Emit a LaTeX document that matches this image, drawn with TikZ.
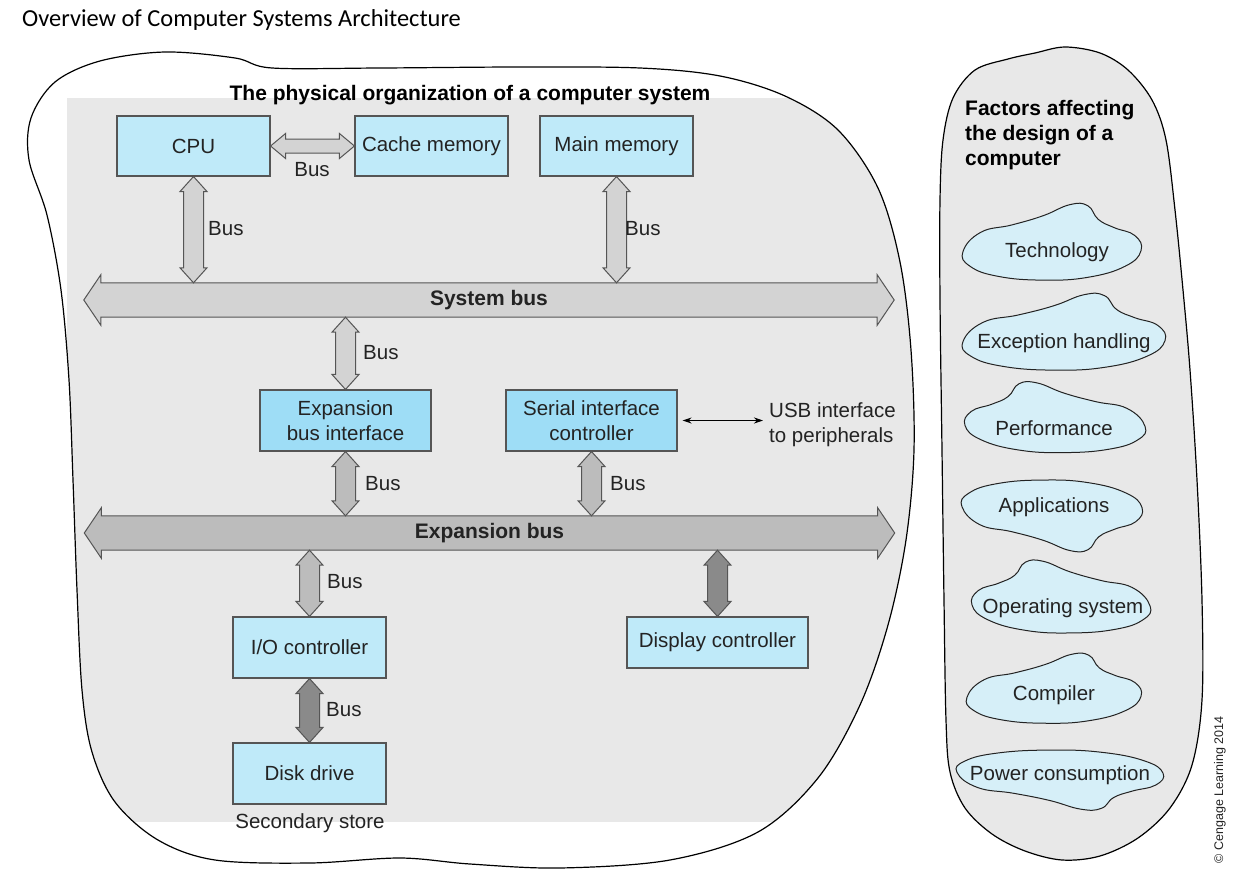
\documentclass[tikz,border=0pt]{standalone}
\usepackage{fontspec}
\setmainfont{Liberation Sans}
\newfontfamily\titlefont{Carlito}
\usetikzlibrary{calc,arrows.meta}
\pgfdeclarelayer{bg}
\pgfdeclarelayer{mid}
\pgfsetlayers{bg,mid,main}

\definecolor{boxblue}{RGB}{191,234,249}
\definecolor{boxdeep}{RGB}{158,221,246}
\definecolor{cloudblue}{RGB}{214,239,248}
\definecolor{panelgray}{RGB}{232,232,232}
\definecolor{busgray}{RGB}{211,211,211}
\definecolor{busmid}{RGB}{188,188,188}
\definecolor{busdark}{RGB}{138,138,138}
\definecolor{edgegray}{RGB}{85,85,85}
\definecolor{inkgray}{RGB}{35,35,35}

% vertical bus: fill, upper end, lower end
\newcommand{\vbus}[3]{%
  \draw[busedge,fill=#1] let \p1=(#2), \p2=(#3) in
    (\x1,\y1) -- (\x1+13.5pt,\y1-15pt) -- (\x1+10pt,\y1-15pt) -- (\x1+10pt,\y2+15pt)
    -- (\x1+13.5pt,\y2+15pt) -- (\x1,\y2) -- (\x1-13.5pt,\y2+15pt) -- (\x1-10pt,\y2+15pt)
    -- (\x1-10pt,\y1-15pt) -- (\x1-13.5pt,\y1-15pt) -- cycle;}
% horizontal bus: fill, left end, right end
\newcommand{\hbus}[3]{%
  \draw[busedge,fill=#1] let \p1=(#2), \p2=(#3) in
    (\x1,\y1) -- (\x1+15pt,\y1+12.5pt) -- (\x1+15pt,\y1+7pt) -- (\x2-15pt,\y1+7pt)
    -- (\x2-15pt,\y1+12.5pt) -- (\x2,\y1) -- (\x2-15pt,\y1-12.5pt) -- (\x2-15pt,\y1-7pt)
    -- (\x1+15pt,\y1-7pt) -- (\x1+15pt,\y1-12.5pt) -- cycle;}
% wide bus round a shaft node
\newcommand{\busbar}[2]{%
  \draw[busedge,fill=#2] (#1.north west) -- ($(#1.north west)+(0,-8)$) -- ($(#1.west)+(-17,0)$)
    -- ($(#1.south west)+(0,8)$) -- (#1.south west) -- (#1.south east) -- ($(#1.south east)+(0,8)$)
    -- ($(#1.east)+(17,0)$) -- ($(#1.north east)+(0,-8)$) -- (#1.north east) -- cycle;}
% cloud behind a factor: options, node, dx, dy, half width, half height
\newcommand{\factorcloud}[6][]{%
  \begin{scope}[shift={($(#2.base)+(#3,#4)$)},xscale=#5,yscale=#6,#1]
    \draw[cloudedge] plot[smooth cycle,tension=0.75] coordinates {(-1,0.1) (-0.8,-0.32)
      (-0.45,-0.48) (-0.1,-0.68) (0.2,-0.92) (0.4,-0.9) (0.52,-0.6) (0.7,-0.42) (0.93,-0.25)
      (1,0.08) (0.82,0.42) (0.4,0.66) (-0.1,0.72) (-0.6,0.64) (-0.92,0.42)};
  \end{scope}}

\begin{document}
\begin{tikzpicture}[x=1pt,y=-1pt,
  unit/.style={draw=edgegray,line width=1.1pt,fill=boxblue,text=inkgray,
    font=\fontsize{20.5}{25}\selectfont,align=center,inner sep=0pt},
  busedge/.style={draw=edgegray,line width=1pt,line join=miter},
  busshaft/.style={minimum width=776pt,minimum height=34pt,inner sep=0pt,
    font=\bfseries\fontsize{21}{25}\selectfont,text=inkgray},
  buslbl/.style={anchor=west,inner sep=0pt,text=inkgray,font=\fontsize{20.5}{25}\selectfont},
  heading/.style={inner sep=0pt,font=\bfseries\fontsize{21}{25}\selectfont},
  factor/.style={anchor=base,inner sep=0pt,text=inkgray,font=\fontsize{20.5}{25}\selectfont},
  cloudedge/.style={draw=inkgray,line width=1pt,fill=cloudblue},
  blobedge/.style={draw=black,line width=1.2pt}]
\useasboundingbox (0,0) rectangle (1235,875);

% Panels
\begin{pgfonlayer}{bg}
\fill[white] (0,0) rectangle (1235,875);
\draw[blobedge,path picture={\fill[panelgray] (67,98) rectangle (1000,822);}]
  plot[smooth cycle,tension=0.55] coordinates {(165,52) (235,58) (272,68) (380,68) (520,67)
  (640,68) (720,76) (785,96) (838,130) (878,188) (900,262) (911,350) (914,450) (906,540)
  (888,625) (860,705) (818,778) (758,832) (670,860) (560,868) (470,864) (400,858) (310,863)
  (215,860) (158,840) (115,802) (92,752) (82,690) (77,590) (73,480) (69,380) (61,290)
  (47,215) (29,160) (31,118) (55,82) (100,61)};
\draw[blobedge,fill=panelgray]
  plot[smooth cycle,tension=0.55] coordinates {(1065,47) (1100,53) (1128,70) (1152,100)
  (1166,140) (1175,210) (1183,290) (1190,370) (1197,480) (1202,600) (1202,700) (1192,765)
  (1170,808) (1138,838) (1100,856) (1062,860) (1025,851) (992,834) (965,808) (950,772)
  (946,720) (944,600) (942,450) (940,300) (940,200) (943,140) (953,98) (975,70) (1008,59)
  (1035,53)};
\end{pgfonlayer}

\node[anchor=base west,inner sep=0pt,font=\titlefont\fontsize{24.4}{28}\selectfont] (overview)
  at (22,27) {Overview of Computer Systems Architecture};
\node[heading,anchor=base] (physical) at (470,100) {The physical organization of a computer system};

% Units
\node[unit,minimum width=153pt,minimum height=60pt] (cpu) at (193.5,146) {CPU};
\node[unit,minimum width=153pt,minimum height=60pt] (cache) at (431.5,146) {Cache memory};
\node[unit,minimum width=153pt,minimum height=60pt] (mainmem) at (616.5,146) {Main memory};
\node[busshaft] (sysbus) at (489,300) {System bus};
\node[unit,fill=boxdeep,minimum width=171pt,minimum height=61pt] (expif) at (345.5,420.5) {Expansion\\bus interface};
\node[unit,fill=boxdeep,minimum width=171pt,minimum height=61pt] (serial) at (591.5,420.5) {Serial interface\\controller};
\node[buslbl,anchor=north west,align=left] (usb) at (769,402) {USB interface\\to peripherals};
\node[busshaft] (expbus) at (489.5,533) {Expansion bus};
\node[unit,minimum width=153pt,minimum height=61pt] (ioctrl) at (309.5,647.5) {I/O controller};
\node[unit,minimum width=153pt,minimum height=61pt] (disk) at (309.5,773.5) {Disk drive};
\node[unit,minimum width=181pt,minimum height=51pt] (display) at (717.5,642.5) {Display controller};
\node[buslbl,anchor=base] (secondary) at (310,828) {Secondary store};

% Bus labels
\node[buslbl,anchor=center] (bus1) at (312,170) {Bus};
\node[buslbl] (bus2) at (208,229) {Bus};
\node[buslbl] (bus3) at (625,229) {Bus};
\node[buslbl] (bus4) at (363,353) {Bus};
\node[buslbl] (bus5) at (365,484) {Bus};
\node[buslbl] (bus6) at (610,484) {Bus};
\node[buslbl] (bus7) at (327,582) {Bus};
\node[buslbl] (bus8) at (326,710) {Bus};

\draw[{Stealth[length=9pt,width=6pt]}-{Stealth[length=9pt,width=6pt]},line width=1pt]
  ([xshift=5pt]serial.east) -- ([xshift=-6pt]usb.west |- serial.east);

% Buses
\begin{pgfonlayer}{mid}
\busbar{sysbus}{busgray}
\busbar{expbus}{busmid}
\hbus{busgray}{cpu.east}{cache.west}
\vbus{busgray}{cpu.south}{cpu.south |- sysbus.north}
\vbus{busgray}{mainmem.south}{mainmem.south |- sysbus.north}
\vbus{busgray}{expif.north |- sysbus.south}{expif.north}
\vbus{busmid}{expif.south}{expif.south |- expbus.north}
\vbus{busmid}{serial.south}{serial.south |- expbus.north}
\vbus{busmid}{ioctrl.north |- expbus.south}{ioctrl.north}
\vbus{busdark}{ioctrl.south}{disk.north}
\vbus{busdark}{display.north |- expbus.south}{display.north}
\end{pgfonlayer}

% Factors
\node[heading,anchor=north west,align=left] (factors) at (965,100) {Factors affecting\\the design of a\\computer};
\node[factor] (tech) at (1057,257) {Technology};
\node[factor] (excep) at (1064,348) {Exception handling};
\node[factor] (perf) at (1054,435) {Performance};
\node[factor] (apps) at (1054,512) {Applications};
\node[factor] (opsys) at (1063,613) {Operating system};
\node[factor] (comp) at (1054,700) {Compiler};
\node[factor] (power) at (1060,780) {Power consumption};

\begin{pgfonlayer}{mid}
\factorcloud{tech}{-5}{-10}{89}{46}
\factorcloud{excep}{0}{-11}{101}{46}
\factorcloud[xscale=-1]{perf}{1}{-13}{90}{42.5}
\factorcloud[yscale=-1]{apps}{-2}{-1}{90}{43}
\factorcloud[xscale=-1]{opsys}{-2}{-11.5}{89}{43.7}
\factorcloud{comp}{0}{-7}{87}{42}
\factorcloud[yscale=-1]{power}{0}{-4}{103}{36}
\end{pgfonlayer}

\node[rotate=90,inner sep=0pt,text=inkgray,font=\fontsize{12.5}{15}\selectfont] (credit)
  at (1220,790) {\textcopyright\ Cengage Learning 2014};
\end{tikzpicture}
\end{document}
